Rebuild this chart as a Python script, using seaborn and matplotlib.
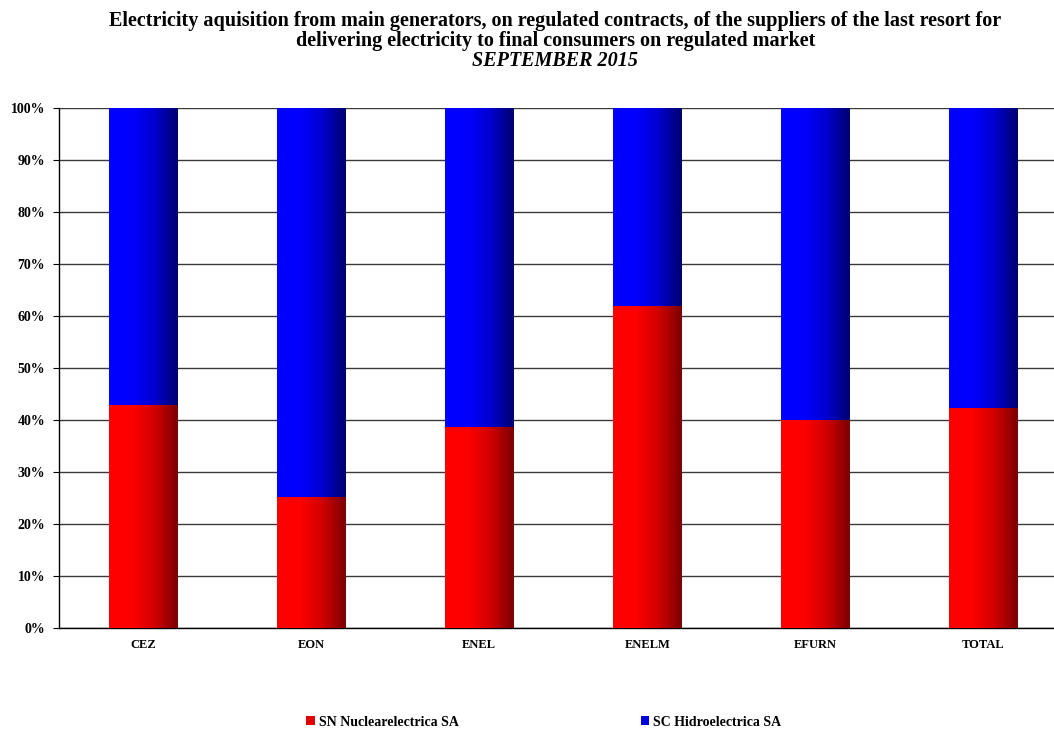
import numpy as np
import pandas as pd
import matplotlib
matplotlib.use("Agg")
import matplotlib.pyplot as plt
from matplotlib.colors import LinearSegmentedColormap
from matplotlib.patches import Patch
import seaborn as sns

# Data (share of SN Nuclearelectrica, the rest is SC Hidroelectrica)
suppliers = ['CEZ', 'EON', 'ENEL', 'ENELM', 'EFURN', 'TOTAL']
nuclear = [42.8, 25.2, 38.7, 62.0, 40.1, 42.4]
hydro = [100 - v for v in nuclear]
series_names = ['SN Nuclearelectrica SA', 'SC Hidroelectrica SA']

df = pd.DataFrame({'supplier': suppliers, 'nuclear': nuclear, 'hydro': hydro})
df['total'] = df['nuclear'] + df['hydro']

sns.set_style('white')
plt.rcParams['font.family'] = ['Liberation Serif', 'DejaVu Serif']
plt.rcParams['text.color'] = 'black'
plt.rcParams['xtick.color'] = 'black'
plt.rcParams['ytick.color'] = 'black'

fig = plt.figure(figsize=(10.54, 7.31), dpi=100)
ax = fig.add_axes([0.056, 0.141, 0.944, 0.711])

# stacked bars: full height in blue, nuclear part in red on top of it
sns.barplot(data=df, x='supplier', y='total', color='blue', width=0.405,
            saturation=1, ax=ax, zorder=2)
sns.barplot(data=df, x='supplier', y='nuclear', color='red', width=0.405,
            saturation=1, ax=ax, zorder=3)

red_cmap = LinearSegmentedColormap.from_list('r', ['#ff0000', '#ff0000', '#d00000', '#7a0000'])
blue_cmap = LinearSegmentedColormap.from_list('b', ['#0000ff', '#0000ff', '#0000d0', '#00006e'])
grad = np.linspace(0, 1, 256).reshape(1, -1)

for i, p in enumerate(ax.patches):
    cmap = blue_cmap if i < len(suppliers) else red_cmap
    x0, y0 = p.get_x(), p.get_y()
    w, h = p.get_width(), p.get_height()
    im = ax.imshow(grad, cmap=cmap, aspect='auto', extent=[x0, x0 + w, y0, y0 + h],
                   zorder=p.get_zorder(), interpolation='bilinear')
    im.set_clip_path(p)
    p.set_facecolor('none')
    p.set_edgecolor('none')

ax.set_xlim(-0.5, 5.42)
ax.set_ylim(0, 100)
ax.set_yticks(np.arange(0, 101, 10))
ax.set_yticklabels([f'{v}%' for v in range(0, 101, 10)], fontsize=10, fontweight='bold')
ax.set_xticks(range(len(suppliers)))
ax.set_xticklabels(suppliers, fontsize=9, fontweight='bold')
ax.set_xticks(np.arange(-0.5, 5.4, 1), minor=True)
ax.tick_params(axis='x', which='major', length=0, pad=8)
ax.tick_params(axis='x', which='minor', length=4, direction='out', color='black', width=0.8)
ax.tick_params(axis='y', length=4, direction='out', color='black', width=0.8, left=True, pad=6)
ax.yaxis.grid(True, color='#3a3a3a', linewidth=1.0, zorder=0)
ax.set_axisbelow(True)
ax.set_xlabel('')
ax.set_ylabel('')
for s in ['top', 'right']:
    ax.spines[s].set_visible(False)
for s in ['left', 'bottom']:
    ax.spines[s].set_color('black')
    ax.spines[s].set_linewidth(1.0)

fig.text(0.527, 0.985, 'Electricity aquisition from main generators, on regulated contracts, of the suppliers of the last resort for\n'
         'delivering electricity to final consumers on regulated market',
         ha='center', va='top', fontsize=14.5, fontweight='bold', linespacing=1.0)
fig.text(0.527, 0.917, 'SEPTEMBER 2015', ha='center', va='center', fontsize=14.5,
         fontweight='bold', fontstyle='italic')

handles = [Patch(facecolor='#e00000', edgecolor='none'), Patch(facecolor='#0000e0', edgecolor='none')]
fig.legend(handles, series_names, loc='center', bbox_to_anchor=(0.516, 0.012), ncol=2,
           frameon=False, prop={'size': 10, 'weight': 'bold'}, columnspacing=13.1,
           handlelength=0.6, handleheight=0.6, handletextpad=0.3)

fig.savefig('out.png', dpi=100)
